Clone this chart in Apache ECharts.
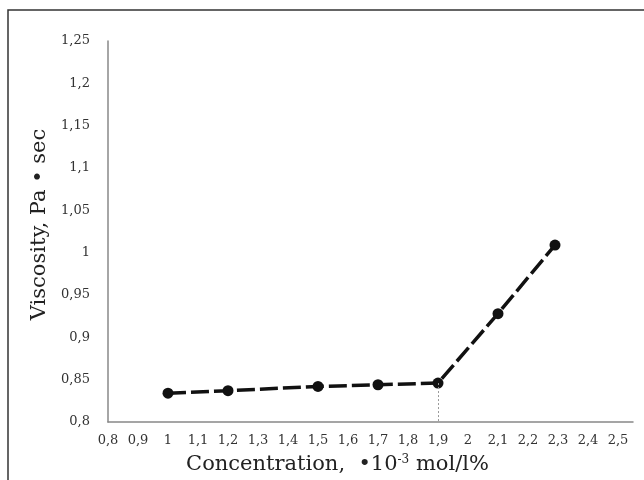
<!DOCTYPE html>
<html>
<head>
<meta charset="utf-8">
<script src="https://cdn.jsdelivr.net/npm/echarts@6/dist/echarts.min.js"></script>
<style>html,body{margin:0;padding:0;background:#fff}#c{width:644px;height:480px}</style>
</head>
<body>
<div id="c"></div>
<script>
var concentration = [1, 1.2, 1.5, 1.7, 1.9, 2.1, 2.29];
var viscosity = [0.834, 0.837, 0.842, 0.844, 0.846, 0.928, 1.009];
var xTicks = {min: 0.8, max: 2.55, interval: 0.1};
var yTicks = {min: 0.8, max: 1.25, interval: 0.05};
var dropX = 1.9;

var points = concentration.map(function (x, i) { return [x, viscosity[i]]; });
var dropY = viscosity[concentration.indexOf(dropX)];
function comma(v) { return String(+v.toFixed(2)).replace('.', ','); }

var chart = echarts.init(document.getElementById('c'));
var serif = '"DejaVu Serif", "Liberation Serif", serif';
chart.setOption({
  animation: false,
  backgroundColor: '#fff',
  grid: {left: 108, top: 41, width: 525, height: 381},
  graphic: [{
    type: 'rect', shape: {x: 8, y: 10, width: 700, height: 520},
    style: {fill: 'none', stroke: '#333', lineWidth: 1.5}, silent: true
  }],
  xAxis: {
    type: 'value', min: xTicks.min, max: xTicks.max, interval: xTicks.interval,
    name: 'Concentration,  •10{sup|-3} mol/l%',
    nameLocation: 'middle', nameGap: 32,
    nameTextStyle: {fontFamily: serif, fontSize: 21, color: '#222', padding: [0, 66, 0, 0],
      rich: {sup: {fontFamily: serif, fontSize: 12, color: '#222', verticalAlign: 'top', padding: [0, 0, 8, 0]}}},
    axisLine: {lineStyle: {color: '#888', width: 1.5}},
    axisTick: {show: false},
    splitLine: {show: false},
    axisLabel: {showMaxLabel: false, margin: 12, fontFamily: serif, fontSize: 13, color: '#333', formatter: comma}
  },
  yAxis: {
    type: 'value', min: yTicks.min, max: yTicks.max, interval: yTicks.interval,
    name: 'Viscosity, Pa • sec', nameLocation: 'middle', nameGap: 56, nameRotate: 90,
    nameTextStyle: {fontFamily: serif, fontSize: 21, color: '#222', padding: [0, 0, 0, 14]},
    axisLine: {show: true, lineStyle: {color: '#888', width: 1.5}},
    axisTick: {show: false},
    splitLine: {show: false},
    axisLabel: {margin: 18, fontFamily: serif, fontSize: 13, color: '#333', formatter: comma}
  },
  series: [{
    type: 'line', data: points,
    symbol: 'circle', symbolSize: 11,
    itemStyle: {color: '#111'},
    lineStyle: {color: '#111', width: 3.5, type: [18, 5]},
    markLine: {
      silent: true, symbol: 'none', label: {show: false},
      lineStyle: {color: '#999', width: 1, type: [2, 2]},
      data: [[{coord: [dropX, dropY]}, {coord: [dropX, yTicks.min]}]]
    },
    z: 3
  }]
});
</script>
</body>
</html>
